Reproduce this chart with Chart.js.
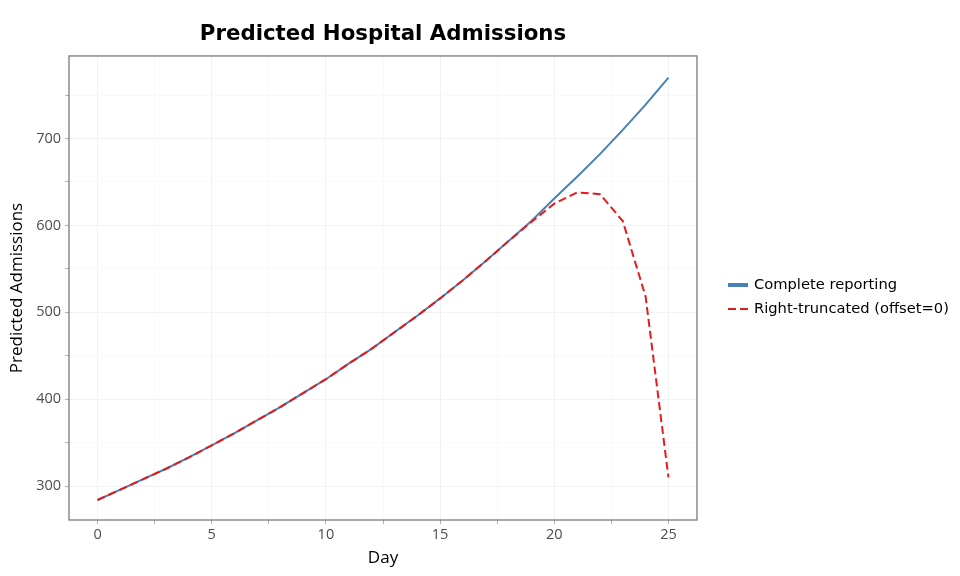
<!DOCTYPE html>
<html>
<head>
<meta charset="utf-8">
<script src="https://cdn.jsdelivr.net/npm/chart.js@4/dist/chart.umd.min.js"></script>
<style>
  body { margin: 0; background: #fff; }
</style>
</head>
<body>
<canvas id="chart" width="960" height="576"></canvas>
<script>
const days = [0, 1, 2, 3, 4, 5, 6, 7, 8, 9, 10, 11, 12, 13, 14, 15, 16, 17, 18, 19, 20, 21, 22, 23, 24, 25];
const completeReporting = [284, 296, 308, 320, 333, 347, 361, 376, 391, 407, 423, 441, 458, 477, 496, 516, 537, 559, 582, 605, 631, 656, 682, 710, 739, 770];
const rightTruncated = [284, 296, 308, 320, 333, 347, 361, 376, 391, 407, 423, 441, 458, 477, 496, 516, 537, 559, 582, 604, 625, 638, 636, 605, 518, 310];
const xTicks = [0, 2.5, 5, 7.5, 10, 12.5, 15, 17.5, 20, 22.5, 25];
const yTicks = [300, 350, 400, 450, 500, 550, 600, 650, 700, 750];
const seriesNames = ['Complete reporting', 'Right-truncated (offset=0)'];

const tickFont = { family: '"Open Sans", "Noto Sans", sans-serif', size: 14.5 };
const titleFont = { family: '"Open Sans", "Noto Sans", sans-serif', size: 17 };

// panel border + legend, drawn by hand so they sit where plotnine put them
const panelAndLegend = {
  id: 'panelAndLegend',
  afterDraw(chart) {
    const { ctx, chartArea: a } = chart;
    ctx.save();
    ctx.strokeStyle = '#7a7a7a';
    ctx.lineWidth = 1.3;
    ctx.strokeRect(a.left, a.top, a.right - a.left, a.bottom - a.top);

    ctx.font = '14.7px "DejaVu Sans"';
    ctx.textBaseline = 'middle';
    ctx.fillStyle = '#000';
    chart.data.datasets.forEach((ds, i) => {
      const y = 285 + i * 24;
      ctx.beginPath();
      ctx.strokeStyle = ds.borderColor;
      ctx.lineWidth = i === 0 ? 4 : 2;
      ctx.setLineDash(ds.borderDash || []);
      ctx.moveTo(728, y);
      ctx.lineTo(748, y);
      ctx.stroke();
      ctx.setLineDash([]);
      ctx.fillText(ds.label, 754, y);
    });
    ctx.restore();
  }
};

new Chart(document.getElementById('chart'), {
  type: 'line',
  data: {
    datasets: [
      {
        label: seriesNames[0],
        data: days.map((d, i) => ({ x: d, y: completeReporting[i] })),
        borderColor: '#4682b4',
        borderWidth: 2,
        pointRadius: 0,
        order: 1
      },
      {
        label: seriesNames[1],
        data: days.map((d, i) => ({ x: d, y: rightTruncated[i] })),
        borderColor: '#e41a1c',
        borderWidth: 2,
        borderDash: [8, 4],
        pointRadius: 0,
        order: 0
      }
    ]
  },
  options: {
    responsive: false,
    animation: false,
    layout: { padding: { left: 0, right: 263, top: 0, bottom: 0 } },
    plugins: {
      legend: { display: false },
      tooltip: { enabled: false },
      title: {
        display: true,
        fullSize: false,
        text: 'Predicted Hospital Admissions',
        color: '#000',
        font: { family: 'DejaVu Sans', size: 21.3, weight: 'bold', lineHeight: 1.2 },
        padding: { top: 22, bottom: 8.4 }
      }
    },
    scales: {
      x: {
        type: 'linear',
        min: -1.25,
        max: 26.25,
        afterBuildTicks: axis => { axis.ticks = xTicks.map(v => ({ value: v })); },
        afterFit: axis => { axis.height = 56; },
        ticks: {
          color: '#4d4d4d',
          font: tickFont,
          padding: 2,
          maxRotation: 0,
          autoSkip: false,
          callback: v => (v % 5 === 0 ? String(v) : '')
        },
        grid: {
          color: c => (c.tick && c.tick.value % 5 === 0 ? '#f2f2f2' : '#f9f9f9'),
          tickColor: '#b0b0b0',
          tickLength: 4
        },
        border: { display: false },
        title: { display: true, text: 'Day', color: '#000', font: titleFont, padding: { top: 0, bottom: 7.8 } }
      },
      y: {
        min: 261,
        max: 795,
        afterBuildTicks: axis => { axis.ticks = yTicks.map(v => ({ value: v })); },
        afterFit: axis => { axis.width = 69; },
        ticks: {
          color: '#4d4d4d',
          font: tickFont,
          padding: 4,
          autoSkip: false,
          callback: v => (v % 100 === 0 ? String(v) : '')
        },
        grid: {
          color: c => (c.tick && c.tick.value % 100 === 0 ? '#f2f2f2' : '#f9f9f9'),
          tickColor: '#b0b0b0',
          tickLength: 4
        },
        border: { display: false },
        title: { display: true, text: 'Predicted Admissions', color: '#000', font: titleFont, padding: { top: 6.8, bottom: 0 } }
      }
    }
  },
  plugins: [panelAndLegend]
});
</script>
</body>
</html>
